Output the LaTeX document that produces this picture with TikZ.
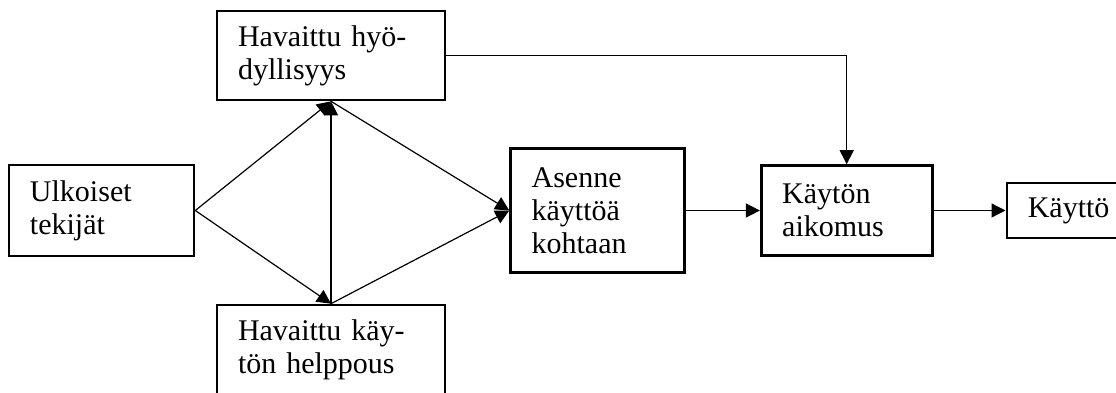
\documentclass[tikz,border=0pt]{standalone}
\usepackage{fontspec}
\setmainfont{Liberation Serif}
\usetikzlibrary{arrows.meta, positioning}
\tikzset{
    block/.style={rectangle, draw=black, line width=1.3pt, inner xsep=10.5pt, inner ysep=0pt, align=left, font=\fontsize{15}{16.5}\selectfont},
    arrow/.style={line width=0.6pt, -{Triangle[length=7pt, width=7pt]}}
}

\begin{document}
\begin{tikzpicture}[x=0.5pt, y=-0.5pt]

    \useasboundingbox (0,0) rectangle (1116,392);

    % Ulkoiset tekijat
    \node (ulkoiset) [block, text width=71.5pt, minimum height=45.5pt] at (101.5,210.5) {Ulkoiset\\tekijät};

    % Havaittu hyodyllisyys
    \node (hyoty) [block, text width=93pt, minimum height=44.5pt] at (331,55.5) {Havaittu hyö-\\dyllisyys};

    % Havaittu kayton helppous
    \node (helppous) [block, text width=93pt, minimum height=44.5pt] at (331,349.5) {Havaittu käy-\\tön helppous};

    % Asenne
    \node (asenne) [block, text width=66pt, minimum height=62pt, right=157pt of ulkoiset] {Asenne\\käyttöä\\kohtaan};

    % Kayton aikomus
    \node (aikomus) [block, text width=64.5pt, minimum height=45pt, right=37pt of asenne] {Käytön\\aikomus};

    % Kaytto
    \node (kaytto) [block, text width=38.5pt, minimum height=27.5pt, right=36pt of aikomus] {Käyttö};

    % Connections
    \draw [arrow] (ulkoiset.east) -- (hyoty.south);
    \draw [arrow] (ulkoiset.east) -- (helppous.north);
    \draw [arrow] (helppous.north) -- (hyoty.south);
    \draw [arrow] (hyoty.south) -- (asenne.west);
    \draw [arrow] (helppous.north) -- (asenne.west);
    \draw [arrow] (asenne.east) -- (aikomus.west);
    \draw [arrow] (hyoty.east) -| (aikomus.north);
    \draw [arrow] (aikomus.east) -- (kaytto.west);

\end{tikzpicture}
\end{document}
